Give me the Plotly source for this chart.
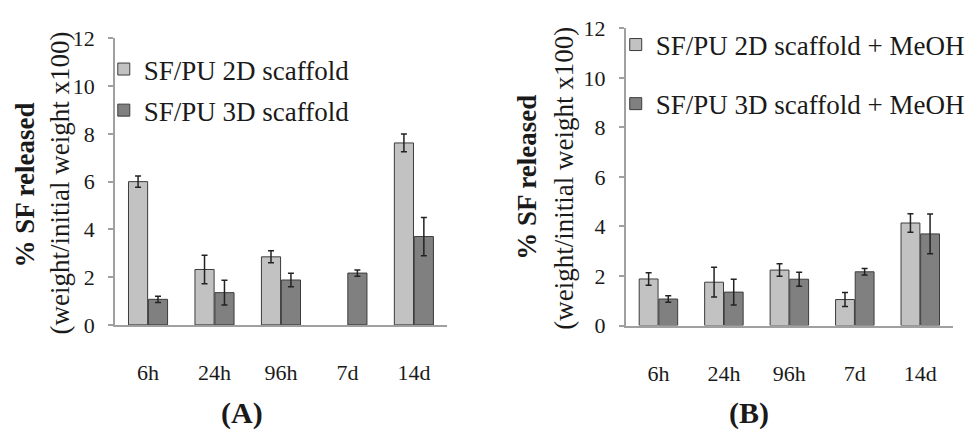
import plotly.graph_objects as go

categories = ["6h", "24h", "96h", "7d", "14d"]

# Panel A
a_2d = [6.0, 2.32, 2.85, None, 7.62]
a_2d_err = [0.24, 0.6, 0.25, None, 0.37]
a_3d = [1.07, 1.35, 1.88, 2.17, 3.7]
a_3d_err = [0.13, 0.52, 0.28, 0.13, 0.8]

# Panel B
b_2d = [1.88, 1.75, 2.24, 1.05, 4.14]
b_2d_err = [0.25, 0.6, 0.25, 0.28, 0.37]
b_3d = [1.07, 1.35, 1.87, 2.17, 3.7]
b_3d_err = [0.13, 0.52, 0.28, 0.13, 0.8]

y_ticks = [0, 2, 4, 6, 8, 10, 12]

LIGHT = "#c2c2c2"
DARK = "#808080"
EDGE = "#3c3c3c"
ERR = "#222222"
FONT = "Liberation Serif, Times New Roman, serif"

def bar(name, x, y, err, color, xa, ya, legend, group):
    return go.Bar(
        name=name, x=x, y=y,
        marker=dict(color=color, line=dict(color=EDGE, width=1)),
        error_y=dict(type="data", array=err, visible=True, color=ERR,
                     thickness=1.5, width=3),
        xaxis=xa, yaxis=ya, legend=legend, legendgroup=group,
    )

fig = go.Figure()
fig.add_trace(bar("SF/PU 2D scaffold", categories, a_2d, a_2d_err, LIGHT, "x", "y", "legend", "a1"))
fig.add_trace(bar("SF/PU 3D scaffold", categories, a_3d, a_3d_err, DARK, "x", "y", "legend", "a2"))
fig.add_trace(bar("SF/PU 2D scaffold + MeOH", categories, b_2d, b_2d_err, LIGHT, "x2", "y2", "legend2", "b1"))
fig.add_trace(bar("SF/PU 3D scaffold + MeOH", categories, b_3d, b_3d_err, DARK, "x2", "y2", "legend2", "b2"))

xcommon = dict(showline=True, linecolor="#a0a0a0", linewidth=1.5, ticks="",
               showgrid=False, zeroline=False,
               tickfont=dict(family=FONT, size=22, color="#1a1a1a"),
               ticklabelstandoff=27, fixedrange=True)
ycommon = dict(showline=True, linecolor="#a0a0a0", linewidth=1.5, ticks="outside",
               ticklen=5, tickcolor="#a0a0a0", tickwidth=1.5,
               tickvals=y_ticks, range=[0, 12], showgrid=False, zeroline=False,
               tickfont=dict(family=FONT, size=22, color="#1a1a1a"),
               ticklabelstandoff=9, fixedrange=True)

legend_common = dict(font=dict(family=FONT, size=27, color="#1a1a1a"),
                     bgcolor="rgba(0,0,0,0)", xanchor="left", yanchor="top",
                     traceorder="grouped")

fig.update_layout(
    width=970, height=434,
    margin=dict(l=0, r=0, t=0, b=0),
    paper_bgcolor="white", plot_bgcolor="white",
    barmode="group", bargap=0.4, bargroupgap=0.04,
    xaxis=dict(domain=[0.1186, 0.4619], anchor="y", **xcommon),
    yaxis=dict(domain=[0.235, 0.9355], anchor="x", **ycommon),
    xaxis2=dict(domain=[0.6464, 0.9845], anchor="y2", **xcommon),
    yaxis2=dict(domain=[0.2334, 0.960], anchor="x2", **ycommon),
    legend=dict(x=104 / 970, y=1 - 35 / 434, tracegroupgap=3, **legend_common),
    legend2=dict(x=617 / 970, y=1 - 9 / 434, tracegroupgap=21, **legend_common),
    showlegend=True,
)

def ann(text, x, y, size, bold=False, angle=0):
    fig.add_annotation(
        text=f"<b>{text}</b>" if bold else text,
        x=x / 970, y=1 - y / 434, xref="paper", yref="paper",
        xanchor="center", yanchor="middle", showarrow=False, textangle=angle,
        font=dict(family=FONT, size=size, color="#1a1a1a"),
    )

ann("% SF released", 26, 183, 27, bold=True, angle=-90)
ann("(weight/initial weight x100)", 60, 181, 27, angle=-90)
ann("% SF released", 528, 175, 27, bold=True, angle=-90)
ann("(weight/initial weight x100)", 565, 176, 27, angle=-90)
ann("(A)", 242, 425, 30, bold=True)
ann("(B)", 751, 425, 30, bold=True)

fig.write_html("out.html")
